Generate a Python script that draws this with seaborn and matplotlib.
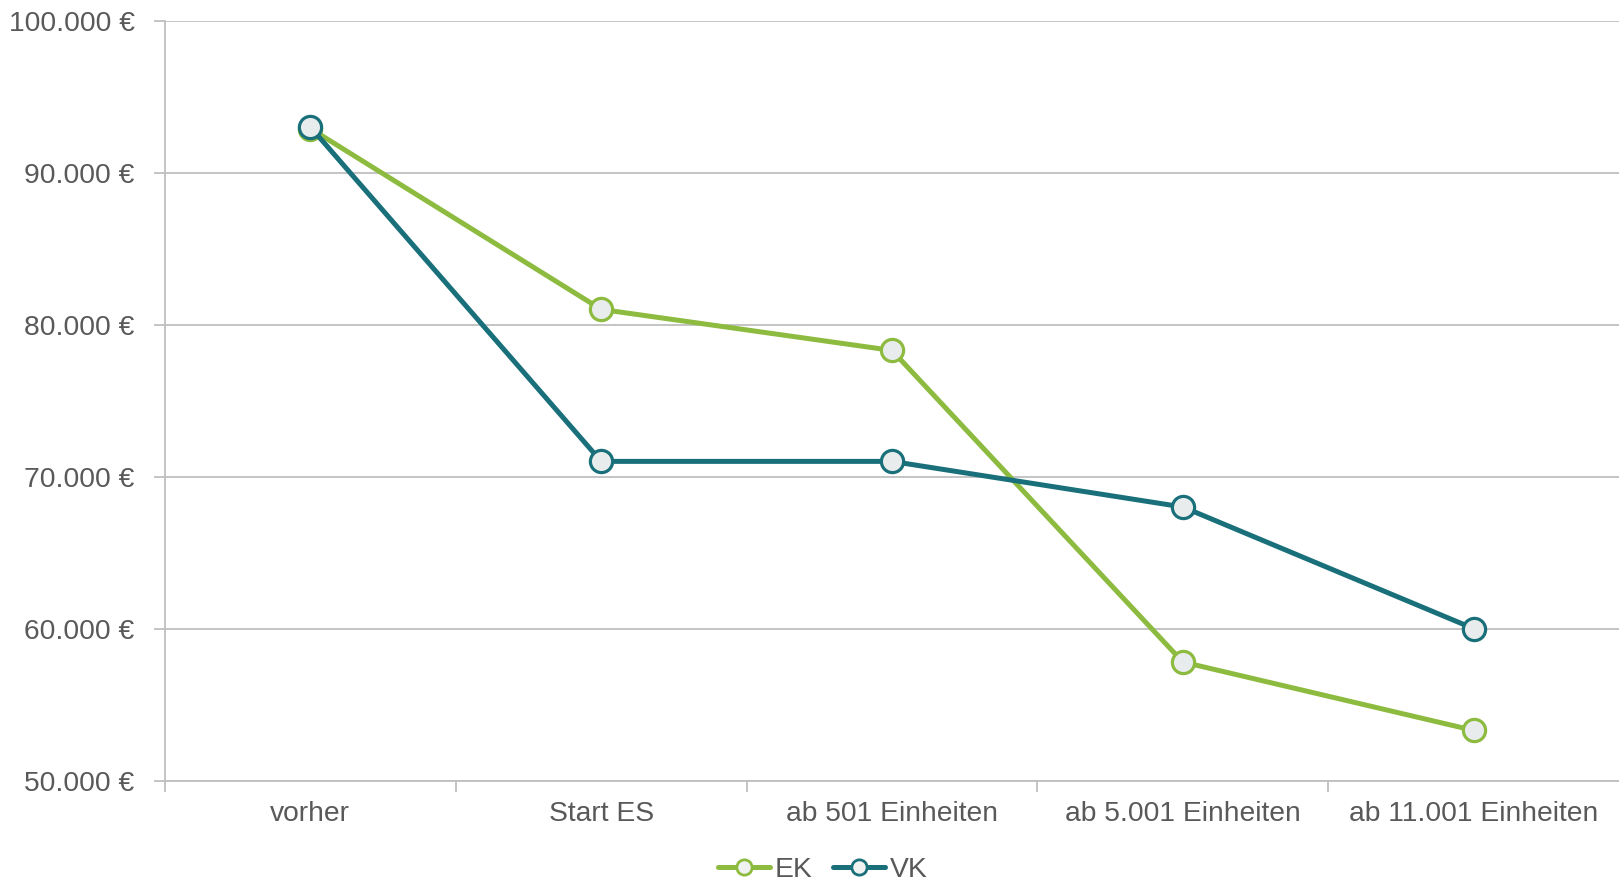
import matplotlib
matplotlib.use("Agg")
import matplotlib.pyplot as plt
from matplotlib.ticker import FixedLocator, FuncFormatter
import seaborn as sns
import pandas as pd

# Price levels per purchase volume tier
stufen = ["vorher", "Start ES", "ab 501 Einheiten", "ab 5.001 Einheiten", "ab 11.001 Einheiten"]
ek = [92900, 81000, 78300, 57800, 53300]
vk = [93000, 71000, 71000, 68000, 60000]
serien = ["EK", "VK"]
farben = {"EK": "#8DBB3F", "VK": "#19707A"}
y_ticks = [50000, 60000, 70000, 80000, 90000, 100000]

df = pd.DataFrame({
    "Stufe": stufen * 2,
    "Preis": ek + vk,
    "Serie": ["EK"] * len(stufen) + ["VK"] * len(stufen),
})

sns.set_theme(style="white")
plt.rcParams["font.family"] = ["Liberation Sans", "DejaVu Sans"]
text_grey = "#595959"
grid_grey = "#BFBFBF"
fs = 20.3

fig = plt.figure(figsize=(16.19, 8.81), dpi=100)
ax = fig.add_axes([0.1019, 0.114, 0.8981, 0.8626])

sns.lineplot(
    data=df, x="Stufe", y="Preis", hue="Serie", hue_order=serien,
    palette=farben, sort=False, marker="o", markersize=16,
    markerfacecolor="#E9ECEC", markeredgewidth=2.3, linewidth=3.6,
    ax=ax, legend=False, zorder=3,
)
for line, s in zip(ax.get_lines(), serien):
    line.set_markeredgecolor(farben[s])

ax.set_xlim(-0.5, len(stufen) - 0.5)
ax.set_ylim(y_ticks[0], y_ticks[-1])
ax.yaxis.set_major_locator(FixedLocator(y_ticks))
ax.yaxis.set_major_formatter(FuncFormatter(lambda v, p: f"{int(v):,} €".replace(",", ".")))
ax.grid(axis="y", color=grid_grey, linewidth=1.3, zorder=0)
ax.set_axisbelow(True)

ax.set_xticks(range(len(stufen)))
ax.set_xticklabels(stufen)
ax.set_xticks([i + 0.5 for i in range(-1, len(stufen) - 1)], minor=True)
ax.tick_params(axis="x", which="major", length=0, pad=15, labelsize=fs, labelcolor=text_grey)
ax.tick_params(axis="x", which="minor", length=8, width=1.3, color=grid_grey, direction="out", bottom=True)
ax.tick_params(axis="y", length=8, width=1.3, color=grid_grey, direction="out", pad=14,
               labelsize=fs, labelcolor=text_grey, left=True)
ax.set_xlabel("")
ax.set_ylabel("")

for side in ["top", "right"]:
    ax.spines[side].set_visible(False)
for side in ["left", "bottom"]:
    ax.spines[side].set_color(grid_grey)
    ax.spines[side].set_linewidth(1.3)

handles = [
    plt.Line2D([], [], color=farben[s], linewidth=3.6, marker="o", markersize=11,
               markerfacecolor="#F0F2F2", markeredgecolor=farben[s], markeredgewidth=2)
    for s in serien
]
leg = fig.legend(handles, serien, loc="center", bbox_to_anchor=(0.508, 0.013), ncol=2,
                 frameon=False, fontsize=fs, handlelength=1.85, handletextpad=0.15,
                 columnspacing=0.75, borderpad=0)
for t in leg.get_texts():
    t.set_color(text_grey)

fig.savefig("out.png", dpi=100)
